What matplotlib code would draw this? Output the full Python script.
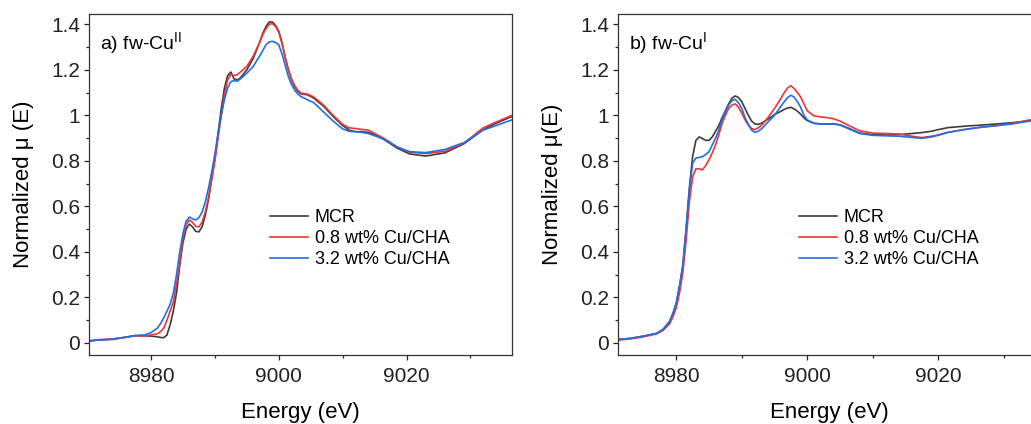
import matplotlib
matplotlib.use('Agg')
import matplotlib.pyplot as plt
from matplotlib.ticker import MultipleLocator, FuncFormatter

plt.rcParams['font.family'] = ['Liberation Sans', 'DejaVu Sans']
plt.rcParams['mathtext.default'] = 'regular'

# ---- data ----
series_names = ['MCR', '0.8 wt% Cu/CHA', '3.2 wt% Cu/CHA']
colors = ['#3c3c3c', '#f03434', '#1f6fe6']

# panel a) fw-Cu(II)
energy_a = [8970.5, 8972, 8974, 8976, 8977.5, 8979, 8980, 8981, 8981.5, 8982,
            8982.5, 8983, 8983.5, 8984, 8984.5, 8985, 8985.5, 8986, 8986.5, 8987,
            8987.5, 8988, 8988.5, 8989, 8989.5, 8990, 8990.5, 8991, 8991.5, 8992,
            8992.5, 8993, 8993.5, 8994, 8995, 8996, 8997, 8997.5, 8998, 8998.5,
            8999, 8999.5, 9000, 9000.5, 9001, 9001.5, 9002, 9002.5, 9003, 9003.5,
            9004.5, 9005.5, 9007, 9008.5, 9010, 9011, 9012, 9013, 9014, 9015,
            9016.5, 9018.5, 9020.5, 9023, 9026, 9029, 9032, 9034, 9036.5]
mcr_a = [0.010, 0.013, 0.017, 0.025, 0.032, 0.032, 0.030, 0.027, 0.024, 0.023,
         0.035, 0.080, 0.140, 0.220, 0.340, 0.440, 0.500, 0.522, 0.510, 0.490,
         0.488, 0.510, 0.560, 0.630, 0.720, 0.810, 0.920, 1.030, 1.120, 1.175,
         1.190, 1.160, 1.155, 1.165, 1.200, 1.250, 1.320, 1.360, 1.390, 1.410,
         1.410, 1.395, 1.370, 1.320, 1.255, 1.200, 1.155, 1.125, 1.105, 1.094,
         1.090, 1.075, 1.040, 0.995, 0.955, 0.935, 0.928, 0.928, 0.925, 0.915,
         0.893, 0.856, 0.830, 0.821, 0.835, 0.875, 0.937, 0.965, 0.995]
cu08_a = [0.008, 0.015, 0.015, 0.025, 0.032, 0.030, 0.035, 0.040, 0.050, 0.065,
          0.100, 0.140, 0.180, 0.260, 0.350, 0.460, 0.520, 0.540, 0.530, 0.512,
          0.510, 0.530, 0.575, 0.640, 0.720, 0.800, 0.900, 1.000, 1.090, 1.155,
          1.180, 1.175, 1.178, 1.190, 1.215, 1.260, 1.320, 1.355, 1.380, 1.400,
          1.403, 1.390, 1.365, 1.315, 1.255, 1.200, 1.160, 1.130, 1.110, 1.097,
          1.093, 1.080, 1.045, 1.000, 0.960, 0.945, 0.942, 0.938, 0.935, 0.920,
          0.898, 0.862, 0.838, 0.832, 0.842, 0.878, 0.945, 0.970, 1.000]
cu32_a = [0.010, 0.013, 0.017, 0.025, 0.032, 0.035, 0.045, 0.065, 0.085, 0.110,
          0.140, 0.170, 0.220, 0.300, 0.400, 0.480, 0.535, 0.553, 0.545, 0.540,
          0.550, 0.575, 0.620, 0.680, 0.750, 0.830, 0.920, 1.000, 1.070, 1.120,
          1.148, 1.152, 1.150, 1.160, 1.185, 1.215, 1.260, 1.285, 1.310, 1.322,
          1.325, 1.320, 1.310, 1.270, 1.220, 1.170, 1.135, 1.110, 1.093, 1.082,
          1.068, 1.055, 1.015, 0.975, 0.940, 0.930, 0.928, 0.925, 0.920, 0.910,
          0.895, 0.860, 0.840, 0.836, 0.850, 0.880, 0.935, 0.955, 0.980]

# panel b) fw-Cu(I)
energy_b = [8971, 8973, 8975, 8977, 8978, 8979, 8979.5, 8980, 8980.5, 8981,
            8981.5, 8982, 8982.5, 8983, 8983.5, 8984, 8984.5, 8985, 8985.5, 8986,
            8986.5, 8987, 8987.5, 8988, 8988.5, 8989, 8989.5, 8990, 8990.5, 8991,
            8991.5, 8992, 8992.5, 8993, 8994, 8995, 8996, 8996.5, 8997, 8997.5,
            8998, 8998.5, 8999, 8999.5, 9000, 9001, 9002, 9003, 9004, 9005,
            9006, 9008, 9010, 9012, 9014, 9016, 9017.5, 9019, 9020, 9021.5,
            9024, 9026.5, 9029, 9031.5, 9034, 9036]
mcr_b = [0.015, 0.020, 0.030, 0.042, 0.060, 0.095, 0.130, 0.175, 0.250, 0.340,
         0.500, 0.680, 0.820, 0.890, 0.905, 0.898, 0.890, 0.890, 0.905, 0.930,
         0.955, 0.990, 1.020, 1.050, 1.075, 1.085, 1.078, 1.060, 1.030, 1.000,
         0.975, 0.962, 0.960, 0.965, 0.983, 1.003, 1.018, 1.026, 1.032, 1.035,
         1.028, 1.018, 1.005, 0.988, 0.977, 0.965, 0.962, 0.962, 0.962, 0.958,
         0.947, 0.922, 0.915, 0.913, 0.915, 0.920, 0.924, 0.930, 0.937, 0.946,
         0.952, 0.957, 0.962, 0.968, 0.976, 0.980]
cu08_b = [0.012, 0.018, 0.027, 0.040, 0.055, 0.085, 0.115, 0.155, 0.220, 0.310,
          0.450, 0.620, 0.730, 0.765, 0.765, 0.760, 0.780, 0.805, 0.835, 0.870,
          0.915, 0.965, 1.000, 1.030, 1.045, 1.050, 1.035, 1.010, 0.980, 0.957,
          0.942, 0.937, 0.945, 0.955, 0.990, 1.030, 1.075, 1.100, 1.120, 1.130,
          1.118, 1.100, 1.080, 1.050, 1.020, 0.998, 0.993, 0.990, 0.985, 0.975,
          0.960, 0.932, 0.922, 0.920, 0.918, 0.908, 0.902, 0.908, 0.914, 0.925,
          0.938, 0.947, 0.955, 0.965, 0.980, 0.985]
cu32_b = [0.015, 0.020, 0.030, 0.042, 0.060, 0.095, 0.130, 0.175, 0.250, 0.340,
          0.500, 0.670, 0.790, 0.812, 0.815, 0.818, 0.828, 0.840, 0.870, 0.900,
          0.935, 0.980, 1.015, 1.045, 1.065, 1.070, 1.055, 1.030, 0.990, 0.960,
          0.935, 0.925, 0.930, 0.940, 0.970, 1.000, 1.040, 1.060, 1.078, 1.088,
          1.080, 1.060, 1.035, 1.000, 0.980, 0.965, 0.962, 0.962, 0.962, 0.958,
          0.945, 0.920, 0.912, 0.910, 0.908, 0.903, 0.899, 0.905, 0.912, 0.925,
          0.937, 0.948, 0.955, 0.963, 0.975, 0.978]

panels = [
    dict(energy=energy_a, curves=[mcr_a, cu08_a, cu32_a], tag='a) fw-Cu$^{II}$',
         ylabel='Normalized \u03bc (E)', xlim=(8970.3, 9036.5)),
    dict(energy=energy_b, curves=[mcr_b, cu08_b, cu32_b], tag='b) fw-Cu$^{I}$',
         ylabel='Normalized \u03bc(E)', xlim=(8971.1, 9035.7)),
]

fig = plt.figure(figsize=(10.31, 4.24), dpi=100)
axes = [fig.add_axes([89 / 1031, 69 / 424, 423 / 1031, 341 / 424]),
        fig.add_axes([618 / 1031, 69 / 424, 423 / 1031, 341 / 424])]

for ax, p in zip(axes, panels):
    for y, name, c in zip(p['curves'], series_names, colors):
        ax.plot(p['energy'], y, color=c, lw=1.2, label=name)

    ax.set_xlim(*p['xlim'])
    ax.set_ylim(-0.053, 1.445)
    ax.xaxis.set_major_locator(MultipleLocator(20))
    ax.xaxis.set_minor_locator(MultipleLocator(10))
    ax.yaxis.set_major_locator(MultipleLocator(0.2))
    ax.yaxis.set_minor_locator(MultipleLocator(0.1))
    ax.yaxis.set_major_formatter(FuncFormatter(lambda v, pos: '%g' % round(v, 1)))
    ax.tick_params(which='both', direction='out', width=0.9, colors='#222222',
                   labelsize=15, top=False, right=False)
    ax.tick_params(which='major', length=3.5, pad=3)
    ax.tick_params(which='minor', length=2)
    ax.tick_params(axis='x', which='major', pad=5)
    for s in ax.spines.values():
        s.set_linewidth(0.9)
        s.set_color('#333333')

    ax.set_xlabel('Energy (eV)', fontsize=16, labelpad=12)
    ax.set_ylabel(p['ylabel'], fontsize=16, labelpad=12)
    ax.text(0.026, 0.915, p['tag'], transform=ax.transAxes, fontsize=14,
            va='center', ha='left')
    ax.legend(loc='upper left', bbox_to_anchor=(0.427, 0.428), frameon=False,
              fontsize=13, handlelength=2.1, handletextpad=0.4,
              labelspacing=0.22, borderpad=0, borderaxespad=0)

fig.savefig('out.png', dpi=100)
